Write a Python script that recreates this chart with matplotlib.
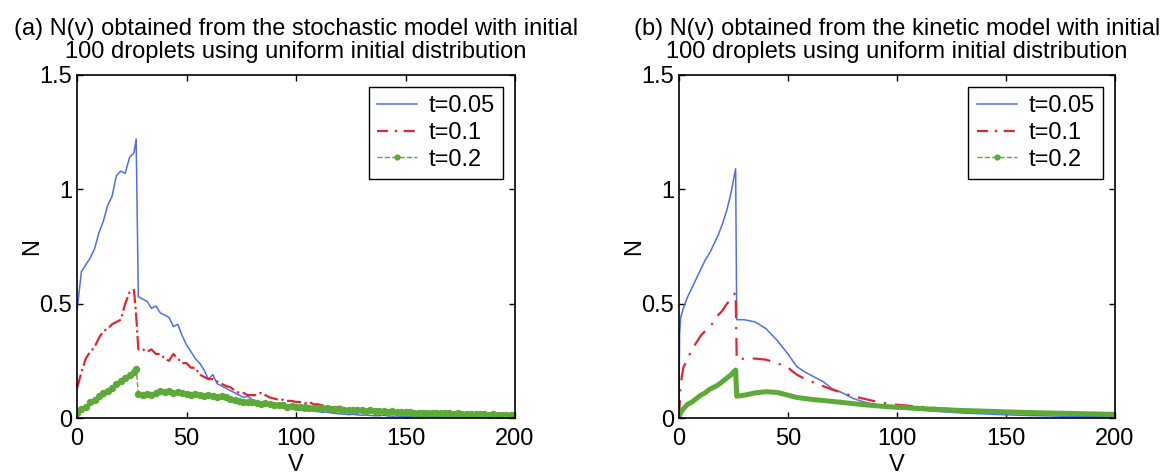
import matplotlib
matplotlib.use("Agg")
import matplotlib.pyplot as plt
from matplotlib.lines import Line2D

plt.rcParams['font.family'] = ['Liberation Sans', 'DejaVu Sans']

# ---- (a) stochastic model ----
va_rise = [0, 2, 4, 6, 8, 10, 12, 14, 16, 18, 20, 22, 24, 26, 27]
va_tail = list(range(28, 201, 2))

blue_a_rise = [0.47, 0.64, 0.67, 0.70, 0.74, 0.81, 0.86, 0.93, 0.97, 1.06, 1.08, 1.07, 1.14, 1.16, 1.22]
blue_a_tail = [0.53, 0.52, 0.51, 0.48, 0.49, 0.46, 0.45, 0.44, 0.40, 0.41,
               0.36, 0.32, 0.29, 0.26, 0.24, 0.21, 0.17, 0.19, 0.15, 0.14,
               0.13, 0.12, 0.11, 0.10, 0.09, 0.095, 0.08, 0.075, 0.07, 0.07,
               0.06, 0.055, 0.055, 0.05, 0.045, 0.04, 0.04, 0.035, 0.03, 0.035,
               0.03, 0.028, 0.025, 0.026, 0.022, 0.02, 0.018, 0.017, 0.015, 0.016,
               0.014, 0.012, 0.013, 0.011, 0.01, 0.01, 0.012, 0.009, 0.008, 0.009,
               0.007, 0.008, 0.006, 0.007, 0.006, 0.005, 0.006, 0.005, 0.006, 0.004,
               0.005, 0.004, 0.005, 0.003, 0.004, 0.003, 0.004, 0.003, 0.003, 0.002,
               0.003, 0.002, 0.003, 0.002, 0.002, 0.002, 0.002]

red_a_rise = [0.13, 0.20, 0.26, 0.29, 0.31, 0.35, 0.38, 0.39, 0.41, 0.42, 0.43, 0.50, 0.55, 0.56, 0.45]
red_a_tail = [0.30, 0.30, 0.29, 0.30, 0.28, 0.28, 0.26, 0.25, 0.28, 0.26,
              0.24, 0.24, 0.22, 0.22, 0.19, 0.18, 0.17, 0.17, 0.16, 0.15,
              0.14, 0.135, 0.12, 0.11, 0.11, 0.10, 0.10, 0.10, 0.11, 0.10,
              0.09, 0.085, 0.08, 0.08, 0.075, 0.075, 0.07, 0.07, 0.065, 0.07,
              0.06, 0.06, 0.055, 0.05, 0.05, 0.045, 0.05, 0.04, 0.04, 0.038,
              0.035, 0.035, 0.03, 0.032, 0.03, 0.028, 0.03, 0.025, 0.025, 0.022,
              0.02, 0.022, 0.02, 0.018, 0.02, 0.017, 0.015, 0.016, 0.015, 0.014,
              0.013, 0.014, 0.012, 0.012, 0.011, 0.012, 0.01, 0.011, 0.01, 0.009,
              0.01, 0.009, 0.008, 0.009, 0.008, 0.008, 0.007]

green_a_rise = [0.02, 0.04, 0.05, 0.07, 0.08, 0.095, 0.11, 0.12, 0.13, 0.15, 0.16, 0.175, 0.19, 0.20, 0.215]
green_a_tail = [0.105, 0.10, 0.105, 0.10, 0.11, 0.12, 0.115, 0.12, 0.11, 0.115,
                0.11, 0.105, 0.10, 0.105, 0.10, 0.095, 0.10, 0.095, 0.09, 0.095,
                0.09, 0.085, 0.08, 0.075, 0.07, 0.07, 0.068, 0.065, 0.062, 0.065,
                0.06, 0.058, 0.055, 0.055, 0.05, 0.052, 0.05, 0.048, 0.05, 0.046,
                0.045, 0.044, 0.042, 0.045, 0.04, 0.04, 0.038, 0.036, 0.035, 0.036,
                0.034, 0.033, 0.032, 0.033, 0.03, 0.03, 0.029, 0.028, 0.03, 0.027,
                0.026, 0.025, 0.026, 0.024, 0.023, 0.024, 0.022, 0.022, 0.021, 0.022,
                0.02, 0.02, 0.019, 0.02, 0.018, 0.018, 0.017, 0.018, 0.016, 0.016,
                0.015, 0.016, 0.014, 0.015, 0.014, 0.013, 0.013]

# ---- (b) kinetic model ----
vb_rise = [0, 0.3, 0.8, 2, 4, 6, 8, 10, 12, 14, 16, 18, 20, 22, 24, 26]
vb_tail = [26.5, 30, 35, 40, 45, 50, 54, 58, 62, 66, 70, 75, 80, 85, 90, 95, 100,
           110, 120, 130, 140, 150, 160, 170, 180, 190, 200]

blue_b_rise = [0, 0.37, 0.44, 0.48, 0.53, 0.57, 0.61, 0.65, 0.69, 0.72, 0.76, 0.80, 0.85, 0.91, 0.99, 1.09]
blue_b_tail = [0.43, 0.43, 0.42, 0.39, 0.34, 0.28, 0.225, 0.20, 0.18, 0.16, 0.13, 0.11, 0.085, 0.07,
               0.058, 0.05, 0.044, 0.035, 0.028, 0.022, 0.018, 0.014, 0.011, 0.009, 0.007, 0.006, 0.005]

red_b_rise = [0, 0.05, 0.15, 0.22, 0.26, 0.30, 0.33, 0.36, 0.38, 0.40, 0.42, 0.45, 0.47, 0.50, 0.52, 0.55]
red_b_tail = [0.255, 0.26, 0.26, 0.255, 0.24, 0.22, 0.19, 0.17, 0.155, 0.14, 0.125, 0.11, 0.095, 0.084,
              0.073, 0.065, 0.058, 0.05, 0.042, 0.035, 0.03, 0.026, 0.022, 0.019, 0.017, 0.015, 0.013]

green_b_rise = [0, 0.01, 0.025, 0.04, 0.06, 0.07, 0.085, 0.10, 0.11, 0.125, 0.135, 0.145, 0.16, 0.175, 0.19, 0.21]
green_b_tail = [0.095, 0.10, 0.11, 0.115, 0.112, 0.10, 0.09, 0.085, 0.08, 0.077, 0.073, 0.068, 0.063, 0.058,
                0.054, 0.05, 0.047, 0.042, 0.037, 0.033, 0.03, 0.027, 0.024, 0.022, 0.02, 0.018, 0.016]

labels = ['t=0.05', 't=0.1', 't=0.2']
titles = ['(a) N(v) obtained from the stochastic model with initial\n100 droplets using uniform initial distribution',
          '(b) N(v) obtained from the kinetic model with initial\n100 droplets using uniform initial distribution']

BLUE = '#4f6fe6'
RED = '#e02630'
GREEN = '#5eaa38'
FS = 17

fig = plt.figure(figsize=(11.6, 4.74), dpi=100)
ax1 = fig.add_axes([0.0664, 0.1181, 0.3776, 0.7237])
ax2 = fig.add_axes([0.5853, 0.1181, 0.3759, 0.7237])

# stochastic panel
ax1.plot(va_rise + va_tail, blue_a_rise + blue_a_tail, color=BLUE, lw=1.1)
ax1.plot(va_rise + va_tail, red_a_rise + red_a_tail, color=RED, lw=1.6, ls='-.')
ax1.plot(va_rise + va_tail, green_a_rise + green_a_tail, color=GREEN, lw=1.0, ls='--',
         marker='o', ms=4.3, mec=GREEN)

# kinetic panel
ax2.plot(vb_rise + vb_tail, blue_b_rise + blue_b_tail, color=BLUE, lw=1.1)
ax2.plot(vb_rise + vb_tail, red_b_rise + red_b_tail, color=RED, lw=1.6, ls=(0, (8, 4, 1, 4)))
ax2.plot(vb_rise + vb_tail, green_b_rise + green_b_tail, color=GREEN, lw=3.6, solid_capstyle='round')

handles = [Line2D([], [], color=BLUE, lw=1.1),
           Line2D([], [], color=RED, lw=1.6, ls=(0, (5, 3, 1, 3))),
           Line2D([], [], color=GREEN, lw=1.0, ls='--', marker='o', ms=3.5)]

for ax, title in zip([ax1, ax2], titles):
    ax.set_xlim(0, 200)
    ax.set_ylim(0, 1.5)
    ax.set_xticks([0, 50, 100, 150, 200])
    ax.set_yticks([0, 0.5, 1, 1.5])
    ax.set_yticklabels(['0', '0.5', '1', '1.5'])
    ax.tick_params(direction='in', top=True, right=True, labelsize=FS, length=4, width=1)
    ax.tick_params(axis='x', pad=7)
    for s in ax.spines.values():
        s.set_linewidth(1.2)
    ax.set_xlabel('V', fontsize=FS, labelpad=3)
    ax.set_ylabel('N', fontsize=FS, labelpad=-3)
    ax.set_title(title, fontsize=FS, linespacing=1.1, pad=12)
    ax.legend(handles, labels, loc='upper right', fontsize=FS, frameon=True, fancybox=False,
              edgecolor='black', framealpha=1, borderaxespad=0.5, handlelength=1.7,
              labelspacing=0.2, borderpad=0.35, handletextpad=0.5)

fig.savefig('out.png', dpi=100)
